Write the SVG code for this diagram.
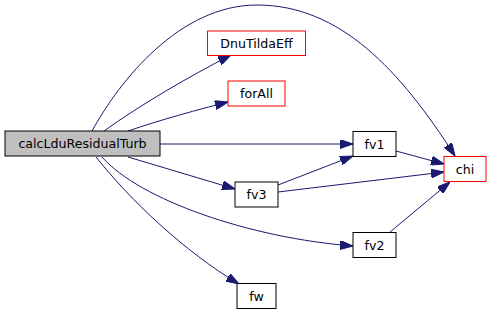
<svg xmlns="http://www.w3.org/2000/svg" width="491" height="315" viewBox="0 0 491 315">
  <defs>
    <marker id="arrow" markerUnits="userSpaceOnUse" markerWidth="13" markerHeight="9" refX="13" refY="4.5" orient="auto">
      <path d="M0,0 L13,4.5 L0,9 z" fill="#191970" stroke="#191970" stroke-width="1"/>
    </marker>
  </defs>
  <style>
    .node rect { fill: #ffffff; stroke: #000000; stroke-width: 1; }
    .node.main rect { fill: #bfbfbf; }
    .node.trunc rect { stroke: #ff0000; }
    .node text { font-family: "DejaVu Sans", sans-serif; font-size: 12.6px; fill: #000000; text-anchor: middle; }
    .edge { fill: none; stroke: #191970; stroke-width: 1; marker-end: url(#arrow); }
  </style>

  <g id="edges">
    <!-- calcLduResidualTurb -> chi -->
    <path class="edge" d="M92,131 C120,80 180,5 257,5 C340,5 400,70 455,156"/>
    <!-- calcLduResidualTurb -> DnuTildaEff -->
    <path class="edge" d="M104,131 C140,105 190,76 231,55"/>
    <!-- calcLduResidualTurb -> forAll -->
    <path class="edge" d="M128,131 C160,120 200,109 228,102"/>
    <!-- calcLduResidualTurb -> fv1 -->
    <path class="edge" d="M160,144 L353,144"/>
    <!-- calcLduResidualTurb -> fv3 -->
    <path class="edge" d="M128,157 C165,168 205,180 235,189"/>
    <!-- calcLduResidualTurb -> fv2 -->
    <path class="edge" d="M102,157 C140,200 250,238 353,246"/>
    <!-- calcLduResidualTurb -> fw -->
    <path class="edge" d="M96,157 C130,200 185,252 239,284"/>
    <!-- fv3 -> fv1 -->
    <path class="edge" d="M278,185 L353,156"/>
    <!-- fv3 -> chi -->
    <path class="edge" d="M278,192 L444,172"/>
    <!-- fv1 -> chi -->
    <path class="edge" d="M396,151 L444,164"/>
    <!-- fv2 -> chi -->
    <path class="edge" d="M390,232 L450,182"/>
  </g>

  <g id="calcLduResidualTurb" class="node main">
    <rect x="5" y="131" width="155" height="25"/>
    <text x="82.5" y="148">calcLduResidualTurb</text>
  </g>
  <g id="DnuTildaEff" class="node trunc">
    <rect x="207.5" y="31" width="98" height="24.5"/>
    <text x="256.5" y="47.5">DnuTildaEff</text>
  </g>
  <g id="forAll" class="node trunc">
    <rect x="228" y="81" width="57" height="25"/>
    <text x="256.5" y="98">forAll</text>
  </g>
  <g id="fv1" class="node">
    <rect x="353" y="131.5" width="43" height="25"/>
    <text x="374.5" y="148.5">fv1</text>
  </g>
  <g id="chi" class="node trunc">
    <rect x="444" y="156.5" width="42" height="25"/>
    <text x="465" y="173.5">chi</text>
  </g>
  <g id="fv3" class="node">
    <rect x="235" y="182" width="43" height="25"/>
    <text x="256.5" y="199">fv3</text>
  </g>
  <g id="fv2" class="node">
    <rect x="353" y="232.5" width="43" height="25"/>
    <text x="374.5" y="249.5">fv2</text>
  </g>
  <g id="fw" class="node">
    <rect x="237" y="283.5" width="39" height="25"/>
    <text x="256.5" y="300.5">fw</text>
  </g>
</svg>
